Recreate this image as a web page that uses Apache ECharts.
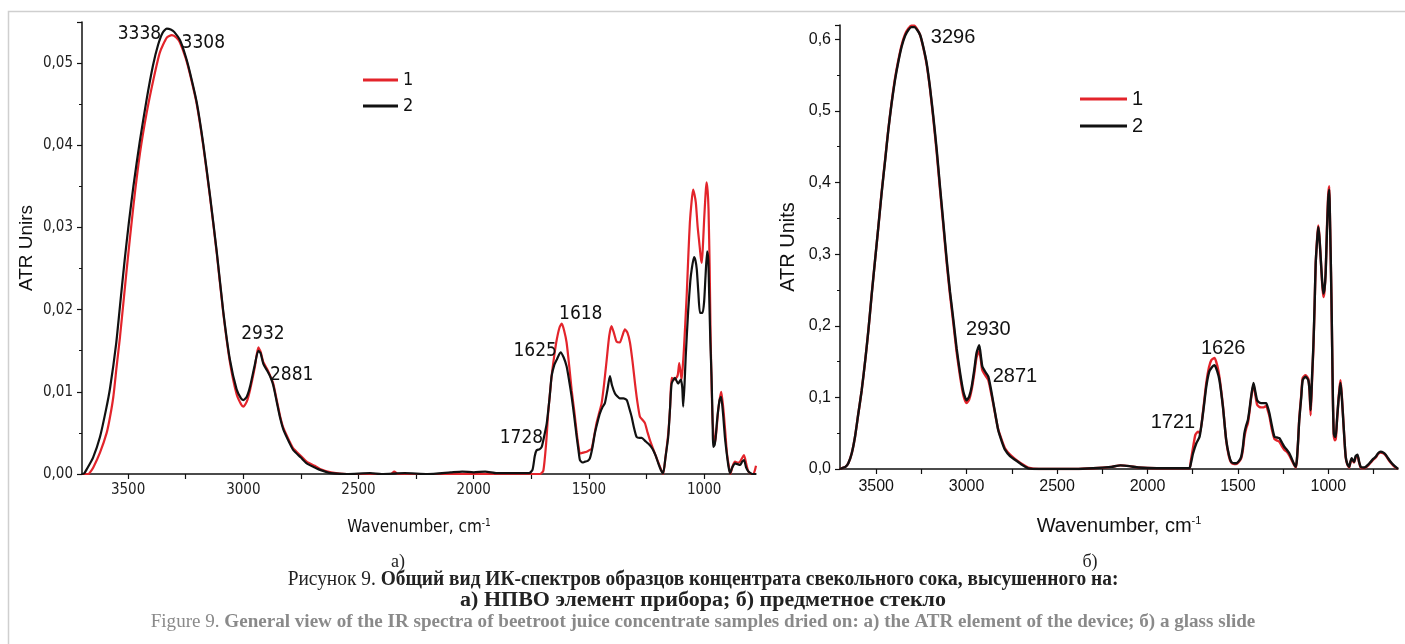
<!DOCTYPE html>
<html>
<head>
<meta charset="utf-8">
<script src="https://cdn.jsdelivr.net/npm/echarts@6/dist/echarts.min.js"></script>
<style>
  html, body { margin: 0; padding: 0; background: #fff; }
  #chart { width: 1405px; height: 644px; }
</style>
</head>
<body>
<div id="chart"></div>
<script>
// ---- Panel а): spectra recorded on the ATR element ----
const waveA1 = [3700,3672,3665,3651,3622,3593,3578,3564,3550,3535,3506,3477,3448,3419,3390,3362,3332,3310,3290,3275,3250,3231,3202,3174,3145,3115,3087,3058,3029,3010,3000,2985,2971,2950,2935,2925,2913,2895,2884,2870,2855,2840,2826,2800,2783,2750,2725,2690,2667,2620,2550,2450,2360,2345,2330,2200,2000,1800,1713,1698,1685,1677,1662,1650,1640,1628,1618,1608,1597,1585,1575,1563,1553,1545,1539,1525,1510,1498,1488,1478,1467,1455,1445,1434,1423,1412,1402,1392,1380,1366,1355,1344,1333,1322,1310,1300,1290,1279,1268,1257,1245,1235,1214,1192,1178,1168,1156,1148,1141,1127,1115,1108,1098,1093,1088,1076,1068,1062,1055,1048,1042,1036,1028,1021,1014,1010,1005,1000,994,990,985,981,976,972,967,963,958,953,946,939,932,926,920,915,908,901,893,886,876,866,857,848,838,827,818,808,795,786,775];
const absA1 = [0,0,0.0002,0.0008,0.0026,0.005,0.007,0.0094,0.013,0.0167,0.0249,0.0326,0.0391,0.044,0.048,0.0513,0.0531,0.0534,0.0531,0.0525,0.0506,0.0486,0.045,0.04,0.0338,0.0268,0.0196,0.0136,0.0097,0.0085,0.0082,0.0088,0.0102,0.013,0.0154,0.0149,0.0136,0.0127,0.012,0.011,0.009,0.007,0.0056,0.004,0.0031,0.0022,0.0015,0.001,0.0006,0.0002,0,0,0,0.0003,0,0,0,0,0,0.0004,0.004,0.0074,0.0119,0.0145,0.0163,0.0178,0.0183,0.0175,0.016,0.013,0.0102,0.0075,0.005,0.0033,0.0025,0.0026,0.0027,0.0029,0.0031,0.0045,0.0062,0.0075,0.0086,0.011,0.0139,0.0168,0.018,0.0172,0.0161,0.016,0.0168,0.0176,0.0172,0.016,0.0135,0.011,0.0088,0.007,0.0066,0.0062,0.005,0.0041,0.0025,0.0009,0,0.002,0.0049,0.008,0.0117,0.0115,0.012,0.0135,0.0115,0.013,0.0151,0.0216,0.027,0.0306,0.033,0.0346,0.034,0.033,0.03,0.0281,0.0262,0.0257,0.028,0.031,0.034,0.0355,0.0345,0.0322,0.025,0.0167,0.01,0.0062,0.0045,0.0037,0.0055,0.0078,0.0092,0.01,0.0088,0.0074,0.005,0.0025,0.001,0,0.001,0.0015,0.0014,0.0014,0.0018,0.0023,0.0013,0.0003,0,0,0.001];

const waveA2 = [3700,3690,3679,3652,3622,3596,3578,3552,3535,3515,3497,3477,3449,3420,3392,3370,3350,3332,3315,3300,3275,3250,3231,3202,3174,3145,3115,3087,3058,3029,3010,3000,2985,2971,2950,2935,2925,2913,2895,2884,2870,2855,2840,2826,2800,2783,2750,2725,2690,2667,2620,2550,2450,2400,2300,2200,2100,2050,2000,1950,1900,1850,1800,1760,1745,1735,1727,1715,1705,1695,1683,1670,1662,1650,1640,1623,1610,1597,1585,1575,1563,1553,1545,1539,1528,1517,1505,1496,1485,1474,1462,1452,1440,1431,1420,1409,1400,1387,1375,1366,1350,1336,1325,1315,1305,1293,1280,1271,1255,1243,1230,1221,1210,1199,1188,1178,1168,1156,1148,1141,1127,1113,1101,1095,1091,1085,1080,1069,1060,1054,1044,1038,1032,1025,1018,1007,1000,994,987,982,978,973,968,963,961,955,950,944,939,933,927,922,917,910,902,895,888,878,866,855,844,835,827,818,808,790,775];
const absA2 = [0,0.0001,0.0006,0.002,0.0045,0.0078,0.0105,0.0158,0.0205,0.026,0.0305,0.035,0.0405,0.0455,0.0497,0.0522,0.0537,0.0542,0.0541,0.0538,0.0528,0.0508,0.0488,0.0452,0.0402,0.034,0.027,0.0198,0.0139,0.0103,0.0092,0.009,0.0094,0.0106,0.0133,0.015,0.0147,0.0134,0.0125,0.0119,0.0108,0.0088,0.0068,0.0054,0.0038,0.0029,0.002,0.0013,0.0008,0.0005,0.0001,0,0.0001,0,0.0001,0,0.0002,0.0003,0.0002,0.0003,0.0001,0.0001,0.0001,0.0001,0.0005,0.0022,0.0029,0.003,0.0033,0.0045,0.0062,0.0095,0.0119,0.0133,0.0139,0.0148,0.0142,0.0131,0.0112,0.0094,0.0068,0.0045,0.0028,0.0017,0.0014,0.0015,0.0016,0.0019,0.0032,0.005,0.0064,0.0074,0.0082,0.0086,0.0102,0.0119,0.0108,0.0098,0.0094,0.0092,0.0092,0.009,0.008,0.007,0.0057,0.0045,0.0044,0.0044,0.004,0.0037,0.0033,0.0029,0.0022,0.0013,0.0005,0.0001,0.002,0.0045,0.008,0.011,0.0117,0.011,0.0115,0.0105,0.0082,0.011,0.0143,0.02,0.0235,0.0249,0.0264,0.026,0.0249,0.022,0.0196,0.0196,0.021,0.0241,0.0271,0.026,0.0216,0.016,0.0119,0.006,0.0033,0.0035,0.0045,0.0065,0.0078,0.009,0.0094,0.0085,0.007,0.0045,0.0025,0.001,0.0001,0.0008,0.0013,0.0012,0.0011,0.0015,0.0017,0.0008,0.0003,0,0];

// ---- Panel б): spectra recorded on a glass slide ----
const waveB1 = [3700,3690,3670,3654,3635,3617,3600,3580,3560,3543,3525,3506,3488,3470,3450,3433,3415,3396,3378,3359,3340,3322,3305,3289,3273,3257,3240,3221,3202,3184,3165,3147,3128,3110,3092,3073,3055,3036,3018,3000,2986,2972,2958,2945,2930,2920,2913,2895,2880,2866,2852,2838,2825,2805,2788,2760,2733,2700,2659,2600,2400,2300,2200,2150,2100,2050,1950,1850,1769,1760,1748,1735,1721,1710,1693,1675,1660,1647,1629,1615,1602,1583,1565,1550,1537,1520,1510,1495,1482,1473,1464,1455,1445,1436,1427,1414,1404,1394,1383,1372,1358,1344,1335,1326,1312,1298,1285,1271,1257,1244,1230,1216,1202,1188,1180,1174,1167,1161,1150,1142,1126,1111,1104,1098,1090,1083,1076,1070,1062,1056,1050,1043,1035,1028,1022,1015,1008,1001,995,992,988,983,979,975,970,964,959,952,944,938,933,927,920,912,904,895,885,878,871,864,858,849,839,830,821,807,793,780,766,752,738,725,711,697,683,670,656,642,628,615];
const absB1 = [0,0.001,0.003,0.008,0.022,0.045,0.075,0.11,0.153,0.194,0.243,0.292,0.338,0.386,0.433,0.474,0.511,0.545,0.57,0.592,0.607,0.615,0.619,0.619,0.614,0.606,0.589,0.565,0.53,0.489,0.441,0.39,0.338,0.288,0.244,0.203,0.163,0.129,0.103,0.092,0.097,0.111,0.133,0.156,0.165,0.15,0.138,0.13,0.124,0.108,0.09,0.071,0.055,0.04,0.029,0.02,0.014,0.008,0.002,0,0,0.001,0.003,0.005,0.004,0.002,0.001,0.001,0.001,0.012,0.03,0.048,0.052,0.05,0.08,0.12,0.142,0.152,0.155,0.145,0.128,0.088,0.04,0.018,0.009,0.007,0.007,0.01,0.015,0.026,0.045,0.056,0.064,0.08,0.099,0.118,0.104,0.09,0.087,0.086,0.086,0.088,0.082,0.074,0.055,0.042,0.04,0.038,0.032,0.027,0.024,0.019,0.012,0.005,0.002,0.012,0.04,0.07,0.103,0.127,0.131,0.126,0.108,0.075,0.125,0.168,0.228,0.287,0.322,0.34,0.327,0.298,0.262,0.24,0.247,0.275,0.335,0.382,0.395,0.362,0.31,0.238,0.168,0.097,0.046,0.04,0.042,0.068,0.097,0.114,0.124,0.108,0.079,0.044,0.016,0.006,0.002,0.009,0.014,0.011,0.009,0.016,0.019,0.009,0.002,0.001,0.002,0.005,0.009,0.013,0.016,0.021,0.023,0.022,0.019,0.014,0.009,0.005,0.002,0];

const waveB2 = [3700,3690,3670,3654,3635,3617,3600,3580,3560,3543,3525,3506,3488,3470,3450,3433,3415,3396,3378,3359,3340,3322,3305,3289,3273,3257,3240,3221,3202,3184,3165,3147,3128,3110,3092,3073,3055,3036,3018,3000,2986,2972,2958,2945,2930,2920,2913,2895,2880,2866,2852,2838,2825,2805,2788,2760,2733,2700,2659,2600,2400,2300,2200,2150,2100,2050,1950,1850,1769,1760,1748,1730,1712,1693,1675,1660,1647,1629,1615,1602,1583,1565,1550,1537,1520,1510,1495,1482,1473,1464,1455,1445,1436,1427,1414,1404,1394,1383,1372,1358,1344,1335,1326,1312,1298,1285,1271,1257,1244,1230,1216,1202,1188,1180,1174,1167,1161,1150,1142,1126,1111,1104,1098,1090,1083,1076,1070,1062,1056,1050,1043,1035,1028,1022,1015,1008,1001,995,992,988,983,979,975,970,964,959,952,944,938,933,927,920,912,904,895,885,878,871,864,858,849,839,830,821,807,793,780,766,752,738,725,711,697,683,670,656,642,628,615];
const absB2 = [0,0.001,0.003,0.008,0.022,0.045,0.075,0.11,0.153,0.194,0.243,0.292,0.338,0.385,0.432,0.473,0.51,0.543,0.568,0.59,0.605,0.613,0.617,0.617,0.613,0.606,0.59,0.567,0.532,0.492,0.445,0.394,0.342,0.292,0.248,0.208,0.168,0.134,0.108,0.096,0.101,0.115,0.138,0.162,0.173,0.155,0.143,0.135,0.129,0.112,0.092,0.072,0.054,0.038,0.027,0.018,0.013,0.007,0.001,0,0,0.001,0.003,0.005,0.004,0.002,0.001,0.001,0.001,0.008,0.022,0.036,0.045,0.078,0.115,0.135,0.141,0.145,0.137,0.124,0.087,0.041,0.02,0.01,0.008,0.008,0.011,0.017,0.03,0.05,0.06,0.068,0.083,0.101,0.12,0.108,0.096,0.093,0.092,0.092,0.092,0.086,0.078,0.06,0.045,0.044,0.043,0.037,0.031,0.027,0.022,0.014,0.006,0.003,0.013,0.04,0.068,0.1,0.124,0.129,0.124,0.11,0.082,0.13,0.171,0.23,0.287,0.32,0.338,0.325,0.297,0.265,0.245,0.25,0.273,0.33,0.376,0.39,0.36,0.31,0.24,0.171,0.1,0.05,0.045,0.045,0.07,0.096,0.11,0.12,0.105,0.078,0.045,0.017,0.007,0.003,0.01,0.015,0.012,0.01,0.018,0.02,0.01,0.003,0.002,0.003,0.006,0.01,0.014,0.017,0.022,0.024,0.023,0.02,0.015,0.01,0.006,0.003,0];

// Band positions marked on each panel (cm-1) and which trace carries them
const bandsA = [3338, 3308, 2932, 2881, 1625, 1618, 1728];
const bandTraceA = ['2', '1', '2', '2', '2', '1', '2'];
const bandsB = [3296, 2930, 2871, 1626, 1721];

// Axis tick values
const xMajorA = [1000, 1500, 2000, 2500, 3000, 3500];
const xAllTicksA = [1000, 1250, 1500, 1750, 2000, 2250, 2500, 2750, 3000, 3250, 3500];
const xMajorB = [1000, 1500, 2000, 2500, 3000, 3500];
const xAllTicksB = [750, 1000, 1250, 1500, 1750, 2000, 2250, 2500, 2750, 3000, 3250, 3500];

const seriesNames = ['1', '2'];

// label offsets (px) for the band annotations
const bandOffsetA = [[-26, 4], [31, 8], [4, -17], [21, -3], [-25, -2], [19, -10], [-15, -13]];
const bandOffsetB = [[40, 10], [9, -16], [25, -8], [8, -18], [-25, -18]];

const RED = '#e3242b';
const BLACK = '#111111';
const NARROW = "'Liberation Sans Narrow', 'DejaVu Sans Condensed', 'Liberation Sans', sans-serif";
const SANS = "'Liberation Sans', Arial, sans-serif";
const SERIF = "'Liberation Serif', 'DejaVu Serif', serif";

function zip(w, a) { return w.map((x, i) => [x, a[i]]); }
function interp(w, a, x) {
  for (let i = 0; i < w.length - 1; i++) {
    const w0 = w[i], w1 = w[i + 1];
    if ((x <= w0 && x >= w1) || (x >= w0 && x <= w1)) {
      const t = (x - w0) / (w1 - w0 || 1);
      return a[i] + t * (a[i + 1] - a[i]);
    }
  }
  return 0;
}
const comma = (d) => (v) => v.toFixed(d).replace('.', ',');
const plain = (v) => String(Math.round(v));

const traceA = { '1': [waveA1, absA1], '2': [waveA2, absA2] };

function markSet(data, font, size) {
  return {
    symbol: 'circle', symbolSize: 0, silent: true, animation: false,
    label: { show: true, position: 'inside', color: '#111', fontFamily: font, fontSize: size },
    data: data
  };
}

const marksA1 = [], marksA2 = [];
bandsA.forEach((b, i) => {
  const t = bandTraceA[i];
  const [w, a] = traceA[t];
  const m = { coord: [b, interp(w, a, b)], label: { formatter: String(b), offset: bandOffsetA[i] } };
  (t === '1' ? marksA1 : marksA2).push(m);
});
const marksB2 = bandsB.map((b, i) => ({
  coord: [b, interp(waveB2, absB2, b)],
  label: { formatter: String(b), offset: bandOffsetB[i] }
}));

const lineBase = { type: 'line', showSymbol: false, smooth: 0.2, animation: false, clip: true };

const chart = echarts.init(document.getElementById('chart'), null, { renderer: 'canvas' });

chart.setOption({
  backgroundColor: '#ffffff',
  animation: false,
  grid: [
    { left: 82, top: 22, width: 674, height: 452 },
    { left: 840, top: 25, width: 558, height: 444 }
  ],
  legend: [
    {
      data: seriesNames, orient: 'vertical', left: 358, top: 66,
      icon: 'rect', itemWidth: 35, itemHeight: 3, itemGap: 8,
      textStyle: { fontFamily: NARROW, fontSize: 18, color: '#111' },
      selectedMode: false
    },
    {
      data: seriesNames, orient: 'vertical', left: 1075, top: 84,
      icon: 'rect', itemWidth: 47, itemHeight: 3, itemGap: 7,
      textStyle: { fontFamily: SANS, fontSize: 20, color: '#111' },
      selectedMode: false
    }
  ],
  xAxis: [
    {
      gridIndex: 0, type: 'value', inverse: true, min: 775, max: 3700,
      name: 'Wavenumber, cm{s|-1}', nameLocation: 'middle', nameGap: 44,
      nameTextStyle: { fontFamily: NARROW, fontSize: 17, color: '#111',
        rich: { s: { fontFamily: NARROW, fontSize: 10, padding: [0, 0, 10, 0] } } },
      axisLine: { lineStyle: { color: '#111', width: 1.5 } },
      axisTick: { length: 5, customValues: xAllTicksA, lineStyle: { color: '#111', width: 1.2 } },
      axisLabel: { customValues: xMajorA, formatter: plain, fontFamily: NARROW, fontSize: 15, color: '#222', margin: 9 },
      splitLine: { show: false }
    },
    {
      gridIndex: 1, type: 'value', inverse: true, min: 615, max: 3700,
      name: 'Wavenumber, cm{s|-1}', nameLocation: 'middle', nameGap: 46,
      nameTextStyle: { fontFamily: SANS, fontSize: 20, color: '#111',
        rich: { s: { fontFamily: SANS, fontSize: 11, padding: [0, 0, 12, 0] } } },
      axisLine: { lineStyle: { color: '#111', width: 1.5 } },
      axisTick: { length: 5, customValues: xAllTicksB, lineStyle: { color: '#111', width: 1.2 } },
      axisLabel: { customValues: xMajorB, formatter: plain, fontFamily: SANS, fontSize: 16, color: '#111', margin: 10 },
      splitLine: { show: false }
    }
  ],
  yAxis: [
    {
      gridIndex: 0, type: 'value', min: 0, max: 0.055, interval: 0.01,
      name: 'ATR Unirs', nameLocation: 'middle', nameGap: 46,
      nameTextStyle: { fontFamily: SANS, fontSize: 19, color: '#111' },
      axisLine: { show: true, lineStyle: { color: '#111', width: 1.5 } },
      axisTick: { show: true, length: 5, lineStyle: { color: '#111', width: 1.2 } },
      minorTick: { show: true, splitNumber: 2, length: 3, lineStyle: { color: '#111', width: 1 } },
      axisLabel: { formatter: comma(2), fontFamily: NARROW, fontSize: 15, color: '#222', margin: 9,
        showMaxLabel: false },
      splitLine: { show: false }
    },
    {
      gridIndex: 1, type: 'value', min: 0, max: 0.62, interval: 0.1,
      name: 'ATR Units', nameLocation: 'middle', nameGap: 42,
      nameTextStyle: { fontFamily: SANS, fontSize: 20, color: '#111' },
      axisLine: { show: true, lineStyle: { color: '#111', width: 1.5 } },
      axisTick: { show: true, length: 5, lineStyle: { color: '#111', width: 1.2 } },
      minorTick: { show: true, splitNumber: 2, length: 3, lineStyle: { color: '#111', width: 1 } },
      axisLabel: { formatter: comma(1), fontFamily: SANS, fontSize: 16, color: '#111', margin: 9,
        showMaxLabel: false },
      splitLine: { show: false }
    }
  ],
  series: [
    Object.assign({}, lineBase, {
      name: '1', xAxisIndex: 0, yAxisIndex: 0, data: zip(waveA1, absA1),
      itemStyle: { color: RED }, lineStyle: { color: RED, width: 2.2 },
      markPoint: markSet(marksA1, NARROW, 19)
    }),
    Object.assign({}, lineBase, {
      name: '2', xAxisIndex: 0, yAxisIndex: 0, data: zip(waveA2, absA2),
      itemStyle: { color: BLACK }, lineStyle: { color: BLACK, width: 2.2 },
      markPoint: markSet(marksA2, NARROW, 19)
    }),
    Object.assign({}, lineBase, {
      name: '1', xAxisIndex: 1, yAxisIndex: 1, data: zip(waveB1, absB1),
      itemStyle: { color: RED }, lineStyle: { color: RED, width: 2.4 }
    }),
    Object.assign({}, lineBase, {
      name: '2', xAxisIndex: 1, yAxisIndex: 1, data: zip(waveB2, absB2),
      itemStyle: { color: BLACK }, lineStyle: { color: BLACK, width: 2.4 },
      markPoint: markSet(marksB2, SANS, 20)
    })
  ],
  graphic: [
    {
      type: 'rect', silent: true, z: -10,
      shape: { x: 8.5, y: 11.5, width: 1500, height: 700 },
      style: { fill: 'none', stroke: '#cfcfcf', lineWidth: 1.5 }
    },
    {
      type: 'text', x: 398, y: 562, silent: true,
      style: { text: 'а)', fontFamily: SERIF, fontSize: 18, fill: '#222', align: 'center', verticalAlign: 'middle' }
    },
    {
      type: 'text', x: 1090, y: 562, silent: true,
      style: { text: 'б)', fontFamily: SERIF, fontSize: 18, fill: '#222', align: 'center', verticalAlign: 'middle' }
    },
    {
      type: 'text', x: 703, y: 580, silent: true, scaleX: 0.97,
      style: {
        text: '{r|Рисунок 9. }{b|Общий вид ИК-спектров образцов концентрата свекольного сока, высушенного на:}',
        align: 'center', verticalAlign: 'middle',
        rich: {
          r: { fontFamily: SERIF, fontSize: 20, fill: '#222' },
          b: { fontFamily: SERIF, fontSize: 20, fontWeight: 'bold', fill: '#222' }
        }
      }
    },
    {
      type: 'text', x: 703, y: 601, silent: true, scaleX: 1.1,
      style: {
        text: 'а) НПВО элемент прибора; б) предметное стекло',
        fontFamily: SERIF, fontSize: 20, fontWeight: 'bold', fill: '#222',
        align: 'center', verticalAlign: 'middle'
      }
    },
    {
      type: 'text', x: 703, y: 622, silent: true, scaleX: 1.06,
      style: {
        text: '{r|Figure 9. }{b|General view of the IR spectra of beetroot juice concentrate samples dried on: а) the ATR element of the device; б) a glass slide}',
        align: 'center', verticalAlign: 'middle',
        rich: {
          r: { fontFamily: SERIF, fontSize: 18, fill: '#8a8a8a' },
          b: { fontFamily: SERIF, fontSize: 18, fontWeight: 'bold', fill: '#8a8a8a' }
        }
      }
    }
  ]
});
</script>
</body>
</html>
